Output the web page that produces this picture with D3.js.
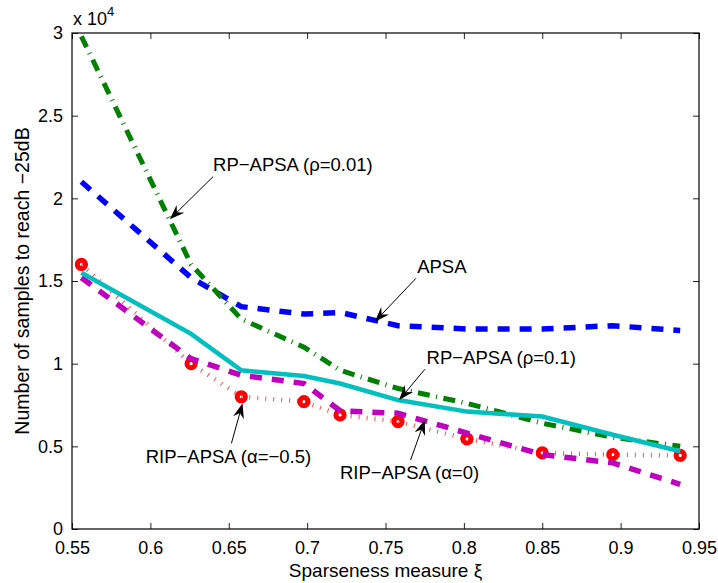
<!DOCTYPE html>
<html>
<head>
<meta charset="utf-8">
<script src="https://cdn.jsdelivr.net/npm/d3@7"></script>
<style>
  html, body { margin: 0; padding: 0; background: #fff; }
  svg { display: block; }
  text { font-family: "Liberation Sans", Arial, Helvetica, sans-serif; fill: #000; }
</style>
</head>
<body>
<svg id="chart" width="718" height="583"></svg>
<script>
// Sparseness measure of each test case
const xi = [0.556, 0.626, 0.658, 0.698, 0.721, 0.758, 0.802, 0.85, 0.895, 0.938];

// Samples needed to reach -25 dB, in units of 10^4
const apsa      = [2.10, 1.52, 1.345, 1.30, 1.31, 1.23, 1.21, 1.21, 1.23, 1.20];
const rpRho001  = [2.98, 1.60, 1.27, 1.10, 0.96, 0.85, 0.76, 0.64, 0.555, 0.50];
const ripAlphaM = [1.60, 1.00, 0.80, 0.77, 0.69, 0.65, 0.545, 0.46, 0.45, 0.445];
const ripAlpha0 = [1.52, 1.03, 0.93, 0.88, 0.715, 0.70, 0.58, 0.45, 0.40, 0.27];
const rpRho01   = [1.55, 1.18, 0.96, 0.925, 0.88, 0.78, 0.71, 0.68, 0.57, 0.47];

const xTicks = [0.55, 0.6, 0.65, 0.7, 0.75, 0.8, 0.85, 0.9, 0.95];
const xTickLabels = ["0.55", "0.6", "0.65", "0.7", "0.75", "0.8", "0.85", "0.9", "0.95"];
const yTicks = [0, 0.5, 1, 1.5, 2, 2.5, 3];
const yTickLabels = ["0", "0.5", "1", "1.5", "2", "2.5", "3"];

const svg = d3.select("#chart");
const plotLeft = 72, plotRight = 699, plotTop = 33, plotBottom = 529;

const x = d3.scaleLinear().domain([0.55, 0.95]).range([plotLeft, plotRight]);
const y = d3.scaleLinear().domain([0, 3]).range([plotBottom, plotTop]);

// Series styles
const series = [
  { values: apsa,      color: "#0000ff", width: 5.5, dash: "12,10" },
  { values: rpRho001,  color: "#008000", width: 5,   dash: "12,6.5,1,6.5" },
  { values: ripAlphaM, color: "#ff0000", width: 4.5, dash: "1,7", opacity: 0.7, marker: true },
  { values: ripAlpha0, color: "#bf00bf", width: 5.5, dash: "12,10" },
  { values: rpRho01,   color: "#00bfbf", width: 4.5, dash: null }
];

// Axis box and inward ticks on all four sides
const axes = svg.append("g");
const tickLen = 6;
axes.append("g").attr("transform", `translate(0,${plotBottom})`)
  .call(d3.axisBottom(x).tickValues(xTicks).tickSize(-tickLen).tickPadding(12)
        .tickFormat((d, i) => xTickLabels[i]))
  .call(g => g.select(".domain").remove());
axes.append("g").attr("transform", `translate(0,${plotTop})`)
  .call(d3.axisTop(x).tickValues(xTicks).tickSize(-tickLen).tickFormat(""))
  .call(g => g.select(".domain").remove());
axes.append("g").attr("transform", `translate(${plotLeft},0)`)
  .call(d3.axisLeft(y).tickValues(yTicks).tickSize(-tickLen).tickPadding(9)
        .tickFormat((d, i) => yTickLabels[i]))
  .call(g => g.select(".domain").remove());
axes.append("g").attr("transform", `translate(${plotRight},0)`)
  .call(d3.axisRight(y).tickValues(yTicks).tickSize(-tickLen).tickFormat(""))
  .call(g => g.select(".domain").remove());

axes.selectAll(".tick text")
  .attr("font-size", 18)
  .attr("font-family", "'Liberation Sans', Arial, sans-serif")
  .attr("fill", "#000");
axes.selectAll(".tick line").attr("stroke", "#222").attr("stroke-width", 1);

axes.append("rect")
  .attr("x", plotLeft).attr("y", plotTop)
  .attr("width", plotRight - plotLeft).attr("height", plotBottom - plotTop)
  .attr("fill", "none").attr("stroke", "#000").attr("stroke-width", 1.2);

// Curves
const line = d3.line().x((d, i) => x(xi[i])).y(d => y(d));
const plot = svg.append("g");
series.forEach(s => {
  plot.append("path")
    .datum(s.values)
    .attr("d", line)
    .attr("fill", "none")
    .attr("stroke", s.color)
    .attr("stroke-width", s.width)
    .attr("stroke-dasharray", s.dash)
    .attr("stroke-opacity", s.opacity || 1)
    .attr("stroke-linejoin", "miter");
  if (s.marker) {
    plot.append("g").selectAll("circle")
      .data(s.values)
      .join("circle")
      .attr("cx", (d, i) => x(xi[i]))
      .attr("cy", d => y(d))
      .attr("r", 4.1)
      .attr("fill", "none")
      .attr("stroke", s.color)
      .attr("stroke-width", 5);
  }
});

// Scale factor above the y axis
const mult = svg.append("text").attr("x", 73).attr("y", 25).attr("font-size", 18);
mult.append("tspan").text("x 10");
mult.append("tspan").attr("font-size", 13).attr("dy", -9).text("4");

// Axis titles
svg.append("text")
  .attr("x", (plotLeft + plotRight) / 2).attr("y", 577)
  .attr("text-anchor", "middle").attr("font-size", 19)
  .text("Sparseness measure ξ");
svg.append("text")
  .attr("transform", `translate(29,${(plotTop + plotBottom) / 2}) rotate(-90)`)
  .attr("text-anchor", "middle").attr("font-size", 19.5)
  .text("Number of samples to reach −25dB");

// Labelled arrows pointing at the curves (data coordinates)
const annotations = [
  { label: "RP−APSA (ρ=0.01)",  text: [0.6400, 2.165], tail: [0.6400, 2.131], tip: [0.6124, 1.873] },
  { label: "APSA",              text: [0.7702, 1.550], tail: [0.7694, 1.516], tip: [0.7432, 1.254] },
  { label: "RP−APSA (ρ=0.1)",   text: [0.7762, 0.996], tail: [0.7751, 0.966], tip: [0.7587, 0.780] },
  { label: "RIP−APSA (α=−0.5)", text: [0.5970, 0.397], tail: [0.6517, 0.518], tip: [0.6588, 0.760] },
  { label: "RIP−APSA (α=0)",    text: [0.7209, 0.301], tail: [0.7660, 0.417], tip: [0.7751, 0.659] }
];

const ann = svg.append("g");
annotations.forEach(a => {
  const tx = x(a.tail[0]), ty = y(a.tail[1]);
  const px = x(a.tip[0]), py = y(a.tip[1]);
  const len = Math.hypot(px - tx, py - ty);
  const ux = (px - tx) / len, uy = (py - ty) / len;
  const nx = -uy, ny = ux;
  const L = 15, W = 5.5, notch = 5;
  const bx = px - L * ux, by = py - L * uy;
  const mx = px - (L - notch) * ux, my = py - (L - notch) * uy;
  ann.append("line")
    .attr("x1", tx).attr("y1", ty).attr("x2", mx).attr("y2", my)
    .attr("stroke", "#000").attr("stroke-width", 1);
  ann.append("path")
    .attr("d", `M${px},${py}L${bx + W * nx},${by + W * ny}L${mx},${my}L${bx - W * nx},${by - W * ny}Z`)
    .attr("fill", "#000");
  ann.append("text")
    .attr("x", x(a.text[0])).attr("y", y(a.text[1]))
    .attr("font-size", 18.5)
    .text(a.label);
});
</script>
</body>
</html>
